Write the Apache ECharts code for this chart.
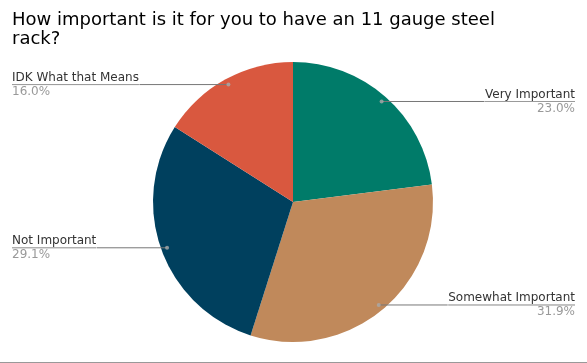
<!DOCTYPE html>
<html><head><meta charset="utf-8">
<script src="https://cdn.jsdelivr.net/npm/echarts@6/dist/echarts.min.js"></script>
<style>html,body{margin:0;padding:0;background:#fff}#c{width:587px;height:362px;border-bottom:1px solid #999}</style>
</head><body><div id="c"></div>
<script>
const titleText = 'How important is it for you to have an 11 gauge steel\nrack?';
const categories = ['Very Important', 'Somewhat Important', 'Not Important', 'IDK What that Means'];
const percents = [23.0, 31.9, 29.1, 16.0];
const colors = ['#007b69', '#c0895b', '#00405e', '#d9583f'];

const chart = echarts.init(document.getElementById('c'), null, {renderer: 'canvas'});
const FONT = 'DejaVu Sans, Verdana, sans-serif';
const CENTER = [293, 202];
const R = 140;
const DOT_R = 134;

const pieData = categories.map((n, i) => ({name: n, value: percents[i], itemStyle: {color: colors[i]}}));
let acc = 0;
const dotData = percents.map(p => { const m = acc + p / 2; acc += p; return [DOT_R / R, m]; });

chart.setOption({
  animation: false,
  title: {
    text: titleText, left: 7, top: 6,
    textStyle: {fontFamily: FONT, fontSize: 18, fontWeight: 'normal', color: '#000', lineHeight: 19}
  },
  polar: {center: CENTER, radius: R},
  angleAxis: {type: 'value', min: 0, max: 100, startAngle: 90, clockwise: true, show: false},
  radiusAxis: {type: 'value', min: 0, max: 1, show: false},
  series: [
    {
      type: 'pie', center: CENTER, radius: R, startAngle: 90, clockwise: true,
      data: pieData, label: {show: false}, labelLine: {show: false}, silent: true,
      itemStyle: {borderWidth: 0}
    },
    {
      type: 'pie', center: CENTER, radius: DOT_R, startAngle: 90, clockwise: true, z: 5,
      silent: true,
      data: categories.map((n, i) => ({name: n, value: percents[i]})),
      itemStyle: {color: 'rgba(0,0,0,0)'},
      label: {
        show: true, position: 'outside', alignTo: 'edge', edgeDistance: 12,
        distanceToLabelLine: 0,
        formatter: p => '{n|' + p.name + '}\n{hr|}\n{p|' + p.value.toFixed(1) + '%}',
        rich: {
          n: {fontFamily: FONT, fontSize: 12, color: '#333', lineHeight: 14},
          hr: {borderColor: '#777', width: '100%', borderWidth: 0.5, height: 0},
          p: {fontFamily: FONT, fontSize: 12, color: '#999', lineHeight: 14}
        }
      },
      labelLine: {show: true, length: 0, length2: 10, lineStyle: {color: '#777', width: 1}}
    },
    {
      type: 'scatter', coordinateSystem: 'polar', z: 6, silent: true,
      symbol: 'circle', symbolSize: 4, data: dotData,
      itemStyle: {color: '#aaa'}
    }
  ]
});
</script></body></html>
